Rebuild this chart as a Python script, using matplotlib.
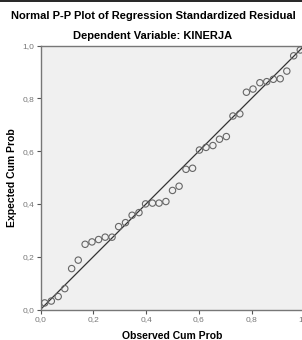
import matplotlib.pyplot as plt
from matplotlib.lines import Line2D

plt.rcParams['font.family'] = ['Liberation Sans', 'DejaVu Sans']

# observed cumulative probability
observed = [0.016, 0.041, 0.067, 0.092, 0.118, 0.143, 0.169, 0.195, 0.220, 0.245,
            0.271, 0.296, 0.322, 0.347, 0.373, 0.398, 0.424, 0.449, 0.475, 0.500,
            0.525, 0.551, 0.576, 0.602, 0.627, 0.653, 0.678, 0.704, 0.729, 0.755,
            0.780, 0.805, 0.831, 0.857, 0.882, 0.908, 0.933, 0.959, 0.984]
# expected cumulative probability
expected = [0.025, 0.032, 0.049, 0.079, 0.155, 0.187, 0.247, 0.256, 0.265, 0.274,
            0.274, 0.314, 0.329, 0.357, 0.367, 0.400, 0.403, 0.403, 0.409, 0.451,
            0.467, 0.531, 0.535, 0.604, 0.614, 0.621, 0.645, 0.655, 0.733, 0.741,
            0.823, 0.835, 0.859, 0.863, 0.872, 0.874, 0.903, 0.961, 0.983]
ticks = [0.0, 0.2, 0.4, 0.6, 0.8, 1.0]
tick_labels = ['0,0', '0,2', '0,4', '0,6', '0,8', '1,0']

fig = plt.figure(figsize=(3.02, 3.40), dpi=100)
fig.patch.set_facecolor('white')

# axes is square and runs a bit past the right edge (cropped screenshot)
ax = fig.add_axes([40.5 / 302, 30.5 / 340, 264 / 302, 264 / 340])
ax.set_facecolor('#f0f0f0')

ax.plot([0, 1], [0, 1], color='#333333', lw=0.9, zorder=2)
ax.scatter(observed, expected, s=21, facecolors='none', edgecolors='#666666',
           linewidths=0.8, zorder=3, clip_on=False)

ax.set_xlim(0, 1)
ax.set_ylim(0, 1)
ax.set_xticks(ticks)
ax.set_yticks(ticks)
ax.set_xticklabels(tick_labels)
ax.set_yticklabels(tick_labels)
ax.tick_params(labelsize=6, labelcolor='#777777', length=3, width=0.8,
               color='#555555', pad=1.5)
for sp in ax.spines.values():
    sp.set_color('#777777')
    sp.set_linewidth(1.0)

ax.set_xlabel('Observed Cum Prob', fontsize=7.5, fontweight='bold', labelpad=6)
ax.set_ylabel('Expected Cum Prob', fontsize=7.5, fontweight='bold', labelpad=4)

fig.text(153.5 / 302, 1 - 16 / 340, 'Normal P-P Plot of Regression Standardized Residual',
         ha='center', va='center', fontsize=8, fontweight='bold')
fig.text(153 / 302, 1 - 36 / 340, 'Dependent Variable: KINERJA',
         ha='center', va='center', fontsize=8, fontweight='bold')

# thin black border line at the top of the screenshot
fig.add_artist(Line2D([0, 1], [0.998, 0.998], transform=fig.transFigure,
                      color='black', lw=1.2))

fig.savefig('out.png', dpi=100)
